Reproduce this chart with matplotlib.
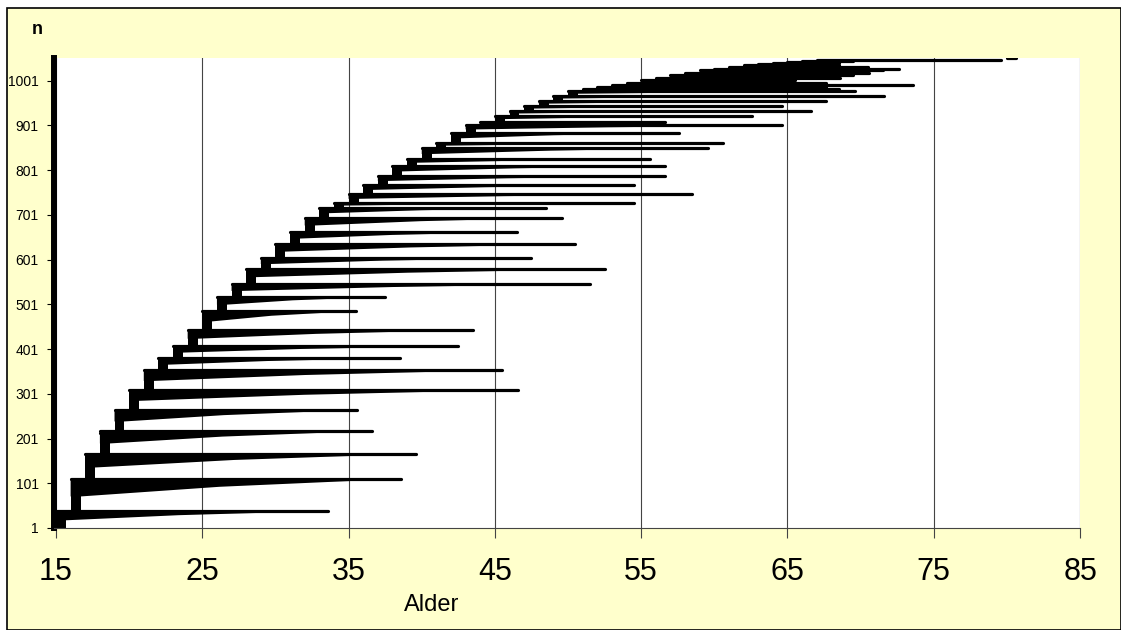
import numpy as np
import matplotlib
matplotlib.use("Agg")
from matplotlib import pyplot as plt
from matplotlib.patches import Rectangle

## one cohort per entry age: row of its top (longest) line and the exit age of that line
entry_age = [15, 16, 17, 18, 19, 20, 21, 22, 23, 24, 25, 26, 27, 28, 29, 30, 31, 32, 33, 34,
             35, 36, 37, 38, 39, 40, 41, 42, 43, 44, 45, 46, 47, 48, 49, 50, 51, 52, 53, 54,
             55, 56, 57, 58, 59, 60, 61, 62, 63, 64, 65, 66, 67]
top_row = [39, 111, 167, 218, 265, 310, 354, 381, 408, 444, 486, 518, 547, 580, 605, 636, 663, 695, 717, 728,
           748, 768, 788, 811, 826, 851, 862, 885, 901, 909, 923, 934, 945, 956, 968, 977, 982, 988, 992, 997,
           1002, 1008, 1014, 1019, 1024, 1028, 1032, 1036, 1039, 1041, 1043, 1045, 1047]
exit_age = [33.6, 38.6, 39.6, 36.6, 35.6, 46.6, 45.5, 38.5, 42.5, 43.5, 35.5, 37.5, 51.5, 52.5, 47.5, 50.5, 46.5, 49.6, 48.5, 54.5,
            58.5, 54.5, 56.6, 56.6, 55.6, 59.6, 60.6, 57.6, 64.6, 56.6, 62.6, 66.6, 64.6, 67.6, 71.6, 69.6, 68.5, 67.6, 73.6, 67.6,
            65.5, 68.6, 69.5, 70.6, 71.5, 72.6, 70.5, 68.5, 67.5, 68.5, 68.5, 69.5, 79.6]

# single lines that stand out besides the cohort tops: entry age, row, exit age
extra_entry = [18, 80]
extra_row = [213, 1052]
extra_exit = [26.6, 80.6]

x_ticks = [15, 25, 35, 45, 55, 65, 75, 85]
y_ticks = [1, 101, 201, 301, 401, 501, 601, 701, 801, 901, 1001]

bg = '#FFFFCC'
col_w = 0.68  # everyone stays at least half a year, so each cohort starts with a solid column

fig = plt.figure(figsize=(11.21, 6.30), dpi=100)
fig.patch.set_facecolor('white')
fig.patches.append(Rectangle((7 / 1121, 0), 1 - 7 / 1121, 1 - 8 / 630, transform=fig.transFigure,
                             facecolor=bg, edgecolor='black', linewidth=1.2, zorder=-10))

ax = fig.add_axes([0.048, 0.162, 0.9155, 0.746])
ax.set_facecolor('white')

prev = 1
for a, top, e in zip(entry_age, top_row, exit_age):
    size = top - prev
    ax.fill_betweenx([prev, top], a, a + col_w, color='black', linewidth=0)
    # taper: the lines of the cohort get longer towards its top row
    xs = [a, a + col_w, a + 0.45 * (e - a), e, a]
    ys = [top - 0.55 * size, top - 0.55 * size, top - 0.25 * size, top, top]
    ax.fill(xs, ys, color='black', linewidth=0)
    ax.plot([a, e], [top, top], color='black', lw=2.3, solid_capstyle='round')
    prev = top

for a, r, e in zip(extra_entry, extra_row, extra_exit):
    ax.plot([a, e], [r, r], color='black', lw=2.3, solid_capstyle='round')

ax.set_xlim(14.85, 85)
ax.set_ylim(1, 1052)
ax.set_xticks(x_ticks)
ax.set_yticks(y_ticks)
ax.grid(axis='x', color='#444444', linewidth=0.8)
ax.set_axisbelow(True)

for s in ['top', 'right']:
    ax.spines[s].set_visible(False)
ax.spines['left'].set_linewidth(4.3)
ax.spines['left'].set_color('black')
ax.spines['bottom'].set_color('#444444')
ax.spines['bottom'].set_linewidth(0.8)

ax.tick_params(axis='x', labelsize=22, length=7, color='#444444', pad=14)
ax.tick_params(axis='y', labelsize=10, length=5, color='black', pad=6)
for lab in ax.get_xticklabels() + ax.get_yticklabels():
    lab.set_family('Liberation Sans')

fig.text(432 / 1121, 1 - 605 / 630, 'Alder', fontsize=17, family='Liberation Sans',
         ha='center', va='center')
fig.text(37 / 1121, 1 - 30 / 630, 'n', fontsize=13, fontweight='bold', family='Liberation Sans',
         ha='center', va='center')

plt.savefig('out.png', dpi=100, facecolor=fig.get_facecolor())
